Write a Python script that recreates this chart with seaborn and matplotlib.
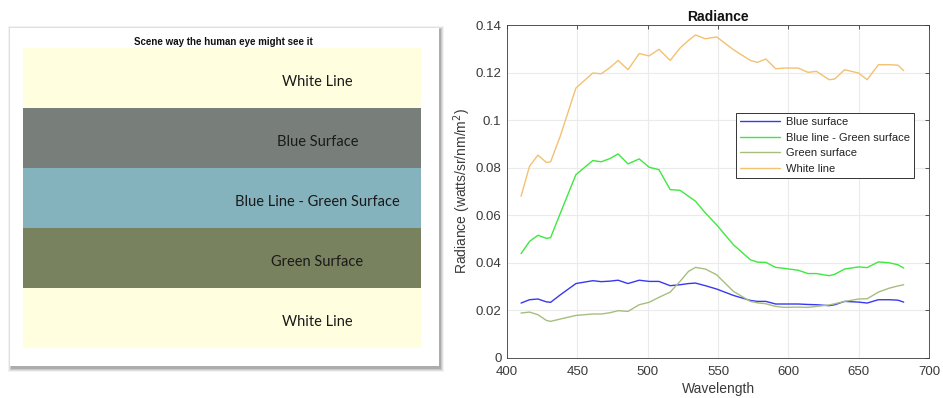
import matplotlib
matplotlib.use("Agg")
import matplotlib.pyplot as plt
import seaborn as sns
import pandas as pd
from matplotlib.patches import Rectangle

# ---------------- data ----------------
band_labels = ["White Line", "Blue Surface", "Blue Line - Green Surface", "Green Surface", "White Line"]
band_colors = ["#FFFFDF", "#787F7B", "#84B3BE", "#79825E", "#FFFFDF"]

wavelength = [410, 416, 422, 428, 431, 438, 449, 461, 467, 473, 479, 486, 494, 501, 508,
              516, 523, 529, 534, 541, 549, 561, 573, 578, 584, 591, 597, 607, 614, 620,
              629, 633, 640, 650, 656, 664, 672, 678, 682]

blue_surface = [0.0231, 0.0245, 0.0248, 0.0236, 0.0234, 0.0266, 0.0313, 0.0325, 0.0321, 0.0323,
                0.0327, 0.0313, 0.0327, 0.0322, 0.0322, 0.0304, 0.0308, 0.0313, 0.0315, 0.0304,
                0.0290, 0.0263, 0.0242, 0.0238, 0.0238, 0.0227, 0.0227, 0.0227, 0.0225, 0.0224,
                0.0220, 0.0224, 0.0238, 0.0235, 0.0231, 0.0245, 0.0245, 0.0243, 0.0235]

blue_line_green_surface = [0.0439, 0.0490, 0.0516, 0.0503, 0.0506, 0.0610, 0.0771, 0.0830, 0.0825,
                           0.0838, 0.0858, 0.0816, 0.0837, 0.0802, 0.0792, 0.0708, 0.0705, 0.0680,
                           0.0659, 0.0610, 0.0560, 0.0476, 0.0413, 0.0403, 0.0402, 0.0381, 0.0377,
                           0.0369, 0.0355, 0.0355, 0.0346, 0.0352, 0.0374, 0.0383, 0.0380, 0.0404,
                           0.0400, 0.0392, 0.0378]

green_surface = [0.0189, 0.0193, 0.0182, 0.0158, 0.0154, 0.0164, 0.0179, 0.0185, 0.0185, 0.0190,
                 0.0199, 0.0196, 0.0224, 0.0234, 0.0255, 0.0277, 0.0322, 0.0364, 0.0381, 0.0374,
                 0.0350, 0.0280, 0.0238, 0.0232, 0.0228, 0.0217, 0.0213, 0.0214, 0.0213, 0.0217,
                 0.0223, 0.0228, 0.0238, 0.0248, 0.0249, 0.0277, 0.0294, 0.0303, 0.0308]

white_line = [0.0680, 0.0806, 0.0853, 0.0822, 0.0825, 0.0935, 0.1135, 0.1198, 0.1195, 0.1220,
              0.1251, 0.1212, 0.1280, 0.1270, 0.1298, 0.1251, 0.1303, 0.1335, 0.1358, 0.1342,
              0.1350, 0.1296, 0.1251, 0.1243, 0.1257, 0.1216, 0.1219, 0.1219, 0.1201, 0.1205,
              0.1170, 0.1173, 0.1212, 0.1198, 0.1170, 0.1233, 0.1233, 0.1231, 0.1208]

series_names = ["Blue surface", "Blue line - Green surface", "Green surface", "White line"]
series_colors = ["#3838F2", "#3FE83F", "#A6BE7E", "#F3C170"]

x_ticks = [400, 450, 500, 550, 600, 650, 700]
y_ticks = [0, 0.02, 0.04, 0.06, 0.08, 0.1, 0.12, 0.14]
y_tick_labels = ["0", "0.02", "0.04", "0.06", "0.08", "0.1", "0.12", "0.14"]

# ---------------- figure ----------------
sns.set_theme(style="white")
plt.rcParams["font.family"] = ["Liberation Sans", "DejaVu Sans"]

W, H = 943, 398
fig = plt.figure(figsize=(W / 100, H / 100), dpi=100)
fig.patch.set_facecolor("white")

# card with soft shadow
cx0, cy0, cx1, cy1 = 10, 28, 439, 368
for i, a in enumerate([0.05, 0.07, 0.10, 0.14]):
    off = 4 - i
    fig.patches.append(Rectangle(((cx0 - off + 2) / W, (H - cy1 - off) / H),
                                 (cx1 - cx0 + 2 * off - 1) / W, (cy1 - cy0 + 2 * off - 2) / H,
                                 transform=fig.transFigure, facecolor="black", alpha=a,
                                 edgecolor="none", zorder=-2))
fig.patches.append(Rectangle((cx0 / W, (H - cy1 + 2) / H), (cx1 - cx0) / W, (cy1 - cy0 - 2) / H,
                             transform=fig.transFigure, facecolor="white", edgecolor="none", zorder=-1))

fig.text(223 / W, 1 - 42 / H, "Scene way the human eye might see it", ha="center", va="center",
         fontsize=7.0, fontweight="bold", color="#111111")

# bands
axL = fig.add_axes([23 / W, (H - 348) / H, 398 / W, 300 / H])
axL.set_zorder(2)
bands = pd.DataFrame({"idx": [str(i) for i in range(len(band_labels))],
                      "label": band_labels, "extent": [1.0] * len(band_labels)})
sns.barplot(data=bands, y="idx", x="extent", hue="idx", palette=band_colors, orient="h",
            width=1.0, linewidth=0, saturation=1, legend=False, ax=axL)
axL.set_xlim(0, 1)
axL.set_ylim(len(band_labels) - 0.5, -0.5)
axL.axis("off")
for i, lab in enumerate(band_labels):
    axL.text(0.74, i + 0.07, lab, ha="center", va="center", fontsize=10.5,
             family=["Lato", "DejaVu Sans"], color="#1a1a1a")

# radiance plot
axR = fig.add_axes([507 / W, (H - 358) / H, 422 / W, 333 / H])
axR.set_zorder(2)
long = pd.DataFrame({
    "Wavelength": wavelength * 4,
    "Radiance": blue_surface + blue_line_green_surface + green_surface + white_line,
    "Series": sum([[n] * len(wavelength) for n in series_names], []),
})
sns.lineplot(data=long, x="Wavelength", y="Radiance", hue="Series", hue_order=series_names,
             palette=series_colors, linewidth=1.0, ax=axR)
axR.set_xlim(400, 700)
axR.set_ylim(0, 0.14)
axR.set_xticks(x_ticks)
axR.set_yticks(y_ticks)
axR.set_yticklabels(y_tick_labels)
axR.grid(True, color="#EBEBEB", linewidth=0.8)
axR.set_axisbelow(True)
for s in axR.spines.values():
    s.set_color("#3a3a3a")
    s.set_linewidth(0.6)
axR.tick_params(axis="both", labelsize=9.5, colors="#3a3a3a", direction="in", length=3,
                width=0.6)
axR.tick_params(axis="x", pad=6)
axR.tick_params(axis="y", pad=4)
axR.tick_params(top=True, right=True, labeltop=False, labelright=False)
axR.set_xlabel("Wavelength", fontsize=10, color="#3a3a3a", labelpad=3)
axR.set_ylabel("Radiance (watts/sr/nm/m$^2$)", fontsize=10, color="#3a3a3a", labelpad=2)
axR.set_title("Radiance", fontsize=10, fontweight="bold", color="#111111", pad=3)
leg = axR.legend(loc="upper right", bbox_to_anchor=(0.964, 0.735), fontsize=8, frameon=True,
                 fancybox=False, framealpha=1, edgecolor="#333333", borderpad=0.35,
                 handlelength=3.6, handletextpad=0.5, labelspacing=0.5, borderaxespad=0)
leg.get_frame().set_linewidth(0.7)
for t in leg.get_texts():
    t.set_color("#222222")

fig.savefig("out.png", dpi=100, facecolor="white")
